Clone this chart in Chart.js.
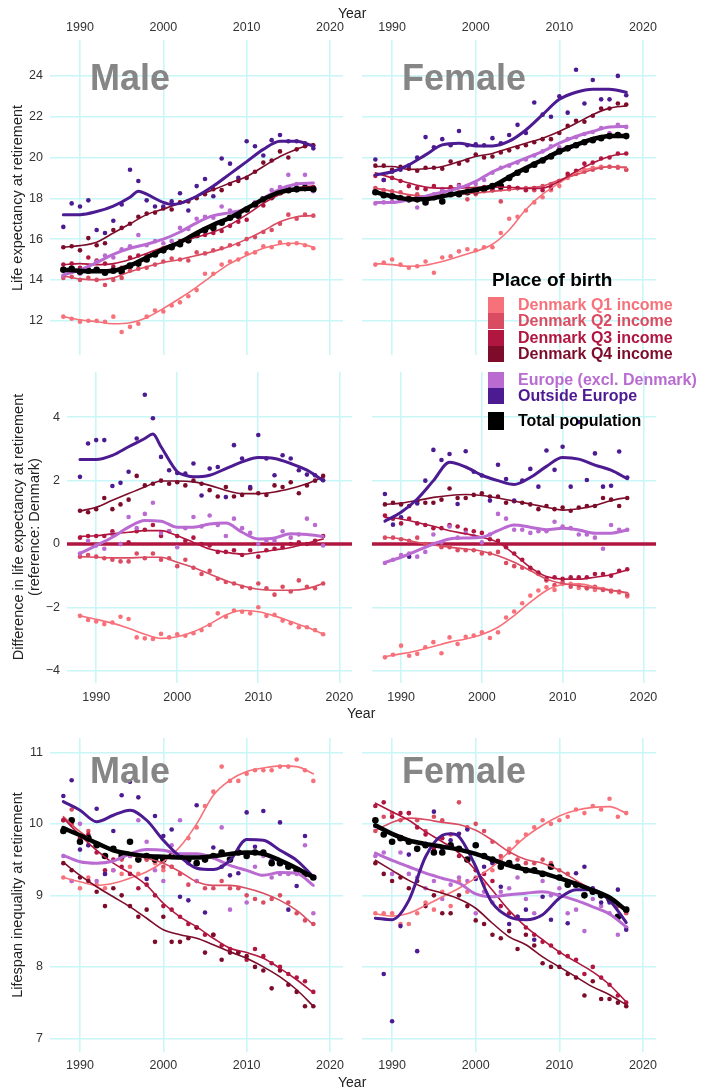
<!DOCTYPE html>
<html>
<head>
<meta charset="utf-8">
<script src="https://cdn.jsdelivr.net/npm/chart.js@4.4.1/dist/chart.umd.min.js"></script>
<style>
  html,body{margin:0;padding:0;background:#fff;}
  #wrap{position:relative;width:703px;height:1089px;overflow:hidden;background:#fff;font-family:"Liberation Sans",Arial,Helvetica,sans-serif;}
  canvas{position:absolute;left:0;top:0;}
  .t{position:absolute;white-space:nowrap;z-index:5;}
  .yt{position:absolute;white-space:nowrap;z-index:5;font-size:14.5px;color:#222;line-height:16px;text-align:center;transform:translate(-50%,-50%) rotate(-90deg);}
  .year{font-size:14px;line-height:14px;color:#222;}
  .panel{font-size:36px;line-height:36px;font-weight:bold;color:#868686;}
  .lg{position:absolute;left:488px;height:16px;display:flex;align-items:center;z-index:5;font-weight:bold;font-size:16px;line-height:16px;white-space:nowrap;}
  .lg span.sq{display:inline-block;width:16px;height:16px;margin-right:14px;}
</style>
</head>
<body>
<div id="wrap">
  <div class="t year" style="left:338px;top:6px;">Year</div>
  <div class="t year" style="left:347px;top:706px;">Year</div>
  <div class="t year" style="left:338px;top:1075px;">Year</div>

  <div class="yt" style="left:17px;top:198px;">Life expectancy at retirement</div>
  <div class="yt" style="left:26px;top:527px;">Difference in life expectancy at retirement<br>(reference: Denmark)</div>
  <div class="yt" style="left:17px;top:895px;">Lifespan inequality at retirement</div>

  <div class="t panel" style="left:90px;top:60px;">Male</div>
  <div class="t panel" style="left:402px;top:60px;">Female</div>
  <div class="t panel" style="left:90px;top:753px;">Male</div>
  <div class="t panel" style="left:402px;top:753px;">Female</div>

  <div class="t" style="left:492px;top:270px;font-size:19px;line-height:19px;font-weight:bold;color:#000;">Place of birth</div>
  <div id="legend"></div>
</div>
<script>
// ---------------- DATA ----------------
const SERIES = ['Denmark Q1 income','Denmark Q2 income','Denmark Q3 income','Denmark Q4 income','Europe (excl. Denmark)','Outside Europe','Total population'];
const COLORS = ['#F6717A','#DA4C61','#B0163F','#7C0C2A','#BA6BD2','#4C1A91','#000000'];
const YEARS = [1988,1989,1990,1991,1992,1993,1994,1995,1996,1997,1998,1999,2000,2001,2002,2003,2004,2005,2006,2007,2008,2009,2010,2011,2012,2013,2014,2015,2016,2017,2018];
const FIT_YEARS = [1988,1990,1992,1994,1996,1998,2000,2002,2004,2006,2008,2010,2012,2014,2016,2018];
const FIT_YEARS_PEAK = [1988,1990,1992,1994,1996,1997,1998,2000,2001,2002,2004,2006,2008,2010,2012,2014,2016,2018];
const X_TICKS = [1990,2000,2010,2020];
const LE_TICKS = [12,14,16,18,20,22,24];
const DIFF_TICKS = [-4,-2,0,2,4];
const INEQ_TICKS = [7,8,9,10,11];

// Life expectancy at retirement, male (rows: Q1,Q2,Q3,Q4,Europe,Outside,Total)
const LE_M_PTS = [
 [12.2,12.1,11.95,12.0,12.0,11.95,12.2,11.45,11.7,11.85,12.2,12.5,12.45,12.75,12.9,13.2,13.5,14.3,14.3,14.75,14.9,15.0,15.3,15.35,15.65,15.6,15.85,15.75,15.8,15.7,15.55],
 [14.1,14.15,14.0,14.1,14.0,13.75,14.0,14.1,14.45,14.55,14.6,14.75,14.9,15.05,15.0,14.95,15.35,15.3,15.45,15.55,15.7,15.75,16.0,16.1,16.35,16.45,16.75,17.2,17.0,17.2,17.15],
 [14.75,14.8,14.6,15.1,14.95,14.8,14.65,14.6,15.1,15.2,15.2,15.3,15.55,15.6,15.9,15.9,16.2,16.2,16.3,16.4,16.65,16.85,16.95,17.75,17.65,18.0,18.3,18.4,18.4,18.65,18.55],
 [15.6,15.65,15.45,16.05,15.7,15.8,16.45,16.55,16.75,17.1,17.25,17.3,17.5,17.45,17.8,17.85,18.0,18.2,18.45,18.4,18.7,18.85,19.0,19.3,19.75,19.85,20.3,20.0,20.4,20.55,20.6],
 [14.2,14.4,14.3,14.6,14.9,15.2,15.1,15.5,15.65,16.2,15.7,15.9,15.8,15.9,16.55,16.5,17.0,17.1,17.05,17.6,17.4,17.2,17.45,17.8,17.9,18.4,18.55,19.15,18.7,19.15,18.35],
 [16.6,17.75,17.6,17.9,16.45,16.3,16.9,17.7,19.4,18.85,17.9,17.6,17.6,17.85,18.25,17.4,18.6,18.95,18.1,19.95,19.7,19.0,20.8,20.55,20.1,20.85,21.1,20.8,20.8,20.7,20.45],
 [14.5,14.55,14.4,14.45,14.5,14.35,14.45,14.4,14.7,14.8,15.0,15.25,15.45,15.6,15.75,15.95,16.2,16.45,16.55,16.8,17.05,17.15,17.45,17.7,17.95,18.1,18.3,18.4,18.45,18.5,18.45]
];
const LE_M_FIT = [
 [12.2,12.05,11.95,11.85,11.9,12.15,12.6,13.1,13.65,14.25,14.8,15.2,15.55,15.75,15.8,15.6],
 [14.2,14.05,14.0,14.1,14.4,14.65,14.85,15.0,15.2,15.4,15.65,16.0,16.4,16.85,17.1,17.15],
 [14.75,14.8,14.75,14.8,15.0,15.3,15.6,15.85,16.1,16.35,16.7,17.2,17.75,18.2,18.5,18.6],
 [15.6,15.68,15.85,16.3,16.75,17.2,17.47,17.77,18.1,18.42,18.75,19.07,19.56,20.05,20.41,20.67],
 [14.25,14.5,14.85,15.25,15.55,15.75,16.0,16.35,16.8,17.15,17.3,17.5,18.0,18.45,18.7,18.75],
 [17.2,17.2,17.35,17.62,18.05,18.35,18.2,17.8,17.7,17.75,18.1,18.6,19.2,19.8,20.4,20.8,20.8,20.55],
 [14.5,14.45,14.42,14.45,14.7,15.1,15.5,15.85,16.3,16.7,17.05,17.5,17.95,18.3,18.45,18.47]
];
// Life expectancy at retirement, female
const LE_F_PTS = [
 [14.75,14.85,15.0,14.75,14.6,14.67,14.9,14.35,15.1,15.16,15.4,15.5,15.45,15.6,15.6,16.3,17.0,17.1,17.4,17.8,18.05,18.4,18.6,19.0,19.2,19.4,19.5,19.55,19.55,19.55,19.4],
 [18.5,18.4,18.35,18.3,18.1,18.2,18.0,18.05,18.2,18.25,18.3,17.95,18.2,18.35,18.4,17.85,18.45,18.5,18.5,18.4,18.6,18.7,18.85,19.1,19.2,19.3,19.4,19.5,19.55,19.5,19.4],
 [19.1,18.9,19.0,18.85,18.6,18.5,18.45,18.6,18.35,18.55,18.65,18.6,18.4,18.55,18.4,18.45,18.55,18.5,18.4,18.5,18.4,18.5,18.85,19.2,19.35,19.7,19.75,19.95,20.0,20.2,20.2],
 [19.6,19.6,19.4,19.55,19.45,19.35,19.5,19.5,19.45,19.8,19.7,19.85,20.15,20.0,20.05,20.25,20.35,20.5,20.6,20.75,20.9,20.9,21.2,21.55,21.8,21.75,22.05,22.4,22.4,22.65,22.6],
 [17.75,17.8,17.85,17.9,17.95,17.55,17.85,18.2,18.45,18.4,18.6,18.55,18.7,18.9,19.25,19.5,19.6,19.75,19.9,20.1,20.3,20.55,20.5,20.9,21.0,21.15,21.25,21.45,21.2,21.6,21.5],
 [19.9,18.9,19.3,19.4,19.6,20.0,21.0,20.5,20.9,20.6,21.3,20.6,20.65,20.6,20.95,20.7,21.1,21.6,21.2,22.7,22.1,22.0,23.0,22.2,24.3,22.65,23.8,22.85,22.85,24.0,23.05],
 [18.3,18.15,18.1,18.0,17.95,17.95,17.8,18.05,17.85,18.2,18.2,18.3,18.35,18.45,18.6,18.6,19.0,19.25,19.4,19.65,19.85,20.05,20.3,20.45,20.6,20.75,20.85,20.95,21.05,21.1,21.05]
];
const LE_F_FIT = [
 [14.8,14.75,14.67,14.72,14.9,15.15,15.4,15.75,16.45,17.45,18.2,18.75,19.25,19.48,19.55,19.48],
 [18.5,18.35,18.18,18.1,18.13,18.2,18.26,18.34,18.42,18.5,18.6,18.9,19.15,19.4,19.55,19.53],
 [19.25,19.0,18.75,18.55,18.5,18.5,18.54,18.55,18.54,18.48,18.5,18.83,19.32,19.73,20.05,20.2],
 [19.56,19.56,19.42,19.45,19.56,19.8,20.05,20.2,20.45,20.7,20.95,21.28,21.68,22.1,22.42,22.53],
 [17.8,17.8,17.93,18.1,18.3,18.5,18.83,19.3,19.64,19.97,20.3,20.7,21.03,21.28,21.5,21.52],
 [19.15,19.3,19.64,20.13,20.62,20.7,20.57,20.57,20.8,21.35,22.1,22.85,23.2,23.35,23.35,23.2],
 [18.3,18.1,17.96,17.96,18.1,18.26,18.42,18.6,19.05,19.48,19.89,20.3,20.62,20.9,21.06,21.06]
];
// Difference in life expectancy (reference: Denmark), male (no total)
const DIFF_M_PTS = [
 [-2.27,-2.4,-2.45,-2.53,-2.48,-2.3,-2.37,-2.95,-2.98,-3.0,-2.84,-2.95,-2.85,-2.9,-2.82,-2.72,-2.56,-2.19,-2.3,-2.1,-2.14,-2.19,-2.0,-2.27,-2.24,-2.42,-2.5,-2.63,-2.63,-2.72,-2.85],
 [-0.4,-0.35,-0.4,-0.45,-0.5,-0.55,-0.55,-0.3,-0.45,-0.3,-0.5,-0.45,-0.7,-0.5,-0.75,-0.95,-0.85,-1.1,-1.2,-1.25,-1.35,-1.4,-1.25,-1.4,-1.6,-1.35,-1.5,-1.15,-1.35,-1.4,-1.25],
 [0.2,0.25,0.25,0.25,0.4,0.0,0.05,0.4,0.45,0.6,0.25,0.4,0.25,0.1,0.2,0.0,-0.05,-0.25,-0.25,-0.2,-0.35,-0.2,-0.4,-0.2,-0.15,-0.1,0.0,0.05,0.0,0.1,0.25],
 [1.05,1.0,1.1,1.45,1.1,1.25,1.4,2.15,1.85,1.9,2.0,1.9,1.95,1.85,2.0,1.9,1.7,1.5,1.8,1.5,1.55,1.75,1.6,1.55,1.85,1.8,1.95,1.6,1.85,2.0,2.15],
 [-0.3,0.1,-0.05,-0.15,0.3,0.0,0.85,0.5,0.95,1.3,0.35,0.4,-0.1,0.5,0.85,0.55,0.9,0.6,0.25,0.8,0.5,0.35,0.0,0.1,0.1,0.4,0.2,0.3,0.8,0.6,-0.05],
 [2.12,3.17,3.28,3.28,1.83,1.93,2.28,3.33,4.71,3.97,2.75,2.33,2.24,2.22,2.54,1.53,2.38,2.43,1.48,3.12,2.7,1.8,3.44,2.7,2.17,2.8,2.7,2.33,2.19,2.17,2.01],
 null
];
const DIFF_M_FIT = [
 [-2.27,-2.38,-2.5,-2.66,-2.85,-2.98,-2.93,-2.77,-2.53,-2.24,-2.1,-2.14,-2.27,-2.45,-2.63,-2.84],
 [-0.4,-0.42,-0.44,-0.44,-0.42,-0.42,-0.58,-0.74,-0.95,-1.16,-1.32,-1.43,-1.46,-1.46,-1.41,-1.25],
 [0.24,0.26,0.32,0.37,0.42,0.42,0.26,0.05,-0.16,-0.26,-0.32,-0.26,-0.19,-0.11,0.02,0.16],
 [1.04,1.16,1.38,1.59,1.8,1.99,1.99,1.96,1.85,1.69,1.59,1.59,1.64,1.75,1.9,2.12],
 [-0.3,-0.05,0.21,0.53,0.74,0.72,0.53,0.53,0.63,0.66,0.37,0.16,0.19,0.32,0.3,0.24],
 [2.67,2.67,2.8,3.07,3.33,3.47,3.07,2.28,2.17,2.12,2.17,2.38,2.59,2.73,2.7,2.54,2.33,2.0],
 null
];
// Difference in life expectancy, female
const DIFF_F_PTS = [
 [-3.58,-3.5,-3.21,-3.53,-3.47,-3.26,-3.1,-3.45,-2.95,-3.16,-2.93,-2.89,-2.79,-2.97,-2.79,-2.32,-2.13,-1.87,-1.63,-1.47,-1.37,-1.45,-1.26,-1.26,-1.39,-1.4,-1.45,-1.42,-1.47,-1.53,-1.66],
 [0.2,0.2,0.15,0.1,0.2,0.0,0.0,-0.1,-0.1,-0.2,-0.2,-0.2,-0.3,-0.3,-0.25,-0.6,-0.7,-0.75,-0.8,-0.95,-1.15,-1.3,-1.2,-1.35,-1.3,-1.4,-1.35,-1.45,-1.5,-1.5,-1.6],
 [0.9,0.8,0.65,0.8,0.65,0.6,0.5,0.5,0.6,0.55,0.45,0.4,0.35,0.15,0.1,-0.1,-0.3,-0.5,-0.75,-0.9,-1.1,-1.05,-1.1,-1.05,-1.05,-1.05,-0.95,-0.95,-1.0,-0.85,-0.8],
 [1.25,1.3,1.25,1.2,1.35,1.3,1.3,1.4,1.75,1.45,1.45,1.55,1.6,1.5,1.5,1.3,1.35,1.3,1.25,1.1,1.2,1.1,1.15,1.05,1.15,1.2,1.2,1.45,1.4,1.2,1.45],
 [-0.6,-0.5,-0.35,-0.3,-0.4,-0.25,0.3,0.05,0.55,0.2,0.35,0.25,0.05,0.3,0.95,0.8,0.45,0.45,0.35,0.4,0.4,0.7,0.55,0.5,0.3,0.3,0.2,-0.15,0.6,0.45,0.45],
 [1.58,0.61,0.84,-0.4,1.28,2.0,2.97,2.65,2.84,1.26,2.93,2.28,2.16,1.37,2.5,2.05,1.37,2.0,2.37,1.81,2.95,2.34,3.07,1.81,3.85,2.02,2.86,1.81,1.84,2.92,2.1],
 null
];
const DIFF_F_FIT = [
 [-3.56,-3.47,-3.37,-3.24,-3.1,-3.0,-2.86,-2.63,-2.26,-1.84,-1.47,-1.28,-1.26,-1.35,-1.46,-1.56],
 [0.21,0.16,0.05,-0.03,-0.1,-0.16,-0.23,-0.37,-0.58,-0.84,-1.11,-1.25,-1.32,-1.4,-1.46,-1.53],
 [0.84,0.79,0.68,0.56,0.42,0.32,0.21,0.05,-0.32,-0.74,-1.03,-1.11,-1.11,-1.05,-0.97,-0.82],
 [1.25,1.29,1.37,1.47,1.53,1.56,1.53,1.45,1.35,1.26,1.16,1.07,1.11,1.21,1.37,1.47],
 [-0.58,-0.42,-0.21,0.0,0.16,0.19,0.21,0.42,0.6,0.53,0.45,0.5,0.44,0.34,0.34,0.44],
 [0.72,1.0,1.42,2.0,2.58,2.43,2.17,2.0,1.88,2.1,2.45,2.73,2.68,2.49,2.33,2.06],
 null
];
// Lifespan inequality at retirement, male
const INEQ_M_PTS = [
 [9.25,9.2,9.1,9.25,9.15,9.1,9.35,9.3,9.4,9.3,9.5,9.45,9.35,9.4,9.55,9.8,9.95,10.25,10.45,10.8,10.6,10.6,10.7,10.75,10.75,10.75,10.8,10.8,10.9,10.75,10.6],
 [10.05,10.2,9.75,9.9,9.7,9.55,9.65,9.5,9.55,9.5,9.5,9.5,9.4,9.4,9.3,9.15,9.2,9.1,9.1,9.2,9.1,9.1,9.0,8.95,8.9,8.95,9.0,8.9,8.75,8.65,8.6],
 [10.05,10.0,9.8,9.85,9.6,9.35,9.5,9.4,9.3,9.1,9.15,9.0,8.85,8.8,8.7,8.6,8.55,8.45,8.45,8.3,8.25,8.2,8.1,8.25,8.15,8.05,8.0,7.9,7.85,7.8,7.65],
 [9.45,9.35,9.25,9.2,9.05,8.85,9.1,9.0,8.85,8.7,8.8,8.35,8.7,8.35,8.35,8.4,8.55,8.2,8.45,8.1,8.2,8.2,8.15,8.0,7.95,7.7,7.95,7.75,7.65,7.45,7.45],
 [9.55,9.2,10.0,9.7,9.2,9.3,9.35,9.55,9.55,10.05,9.75,9.35,9.2,9.7,10.05,9.45,9.2,9.55,9.55,9.95,8.8,9.6,8.9,9.4,9.55,9.25,9.3,9.3,9.3,9.7,8.75],
 [10.39,10.61,9.64,9.7,10.21,9.3,9.9,10.4,10.59,10.37,9.23,10.11,9.83,9.92,8.98,8.93,10.26,8.76,9.67,9.4,9.28,9.31,10.16,9.68,10.18,9.49,10.02,8.8,9.13,9.83,9.26],
 [9.9,10.05,9.75,9.8,9.7,9.55,9.65,9.55,9.75,9.5,9.55,9.5,9.5,9.55,9.55,9.5,9.45,9.5,9.55,9.6,9.5,9.6,9.55,9.6,9.6,9.45,9.45,9.4,9.35,9.3,9.25]
];
const INEQ_M_FIT = [
 [9.25,9.19,9.14,9.17,9.24,9.33,9.47,9.68,10.0,10.4,10.61,10.73,10.78,10.81,10.8,10.7],
 [10.1,9.89,9.73,9.63,9.56,9.52,9.45,9.33,9.19,9.14,9.14,9.1,9.03,8.93,8.79,8.59],
 [10.08,9.84,9.63,9.45,9.31,9.14,8.89,8.7,8.56,8.4,8.26,8.2,8.12,7.98,7.82,7.64],
 [9.46,9.28,9.12,8.98,8.84,8.68,8.52,8.45,8.4,8.31,8.21,8.12,8.0,7.86,7.68,7.45],
 [9.56,9.47,9.45,9.48,9.58,9.64,9.63,9.58,9.58,9.52,9.42,9.35,9.28,9.32,9.31,9.14],
 [10.31,10.19,10.03,10.12,10.19,10.05,9.77,9.54,9.38,9.36,9.49,9.78,9.77,9.63,9.49,9.26],
 [9.94,9.84,9.73,9.63,9.58,9.55,9.54,9.53,9.53,9.55,9.58,9.6,9.58,9.49,9.38,9.25]
];
// Lifespan inequality at retirement, female
const INEQ_F_PTS = [
 [8.75,8.75,8.75,8.6,8.6,8.75,8.9,8.8,9.05,8.85,9.2,9.05,9.25,9.15,9.35,9.5,9.65,9.75,9.85,9.95,10.05,10.0,10.05,10.1,10.2,10.15,10.25,10.2,10.35,10.1,10.15],
 [9.9,10.1,10.15,10.05,10.15,10.05,9.9,10.1,10.05,9.85,10.3,9.95,10.0,9.9,9.75,9.55,9.6,9.5,9.45,9.45,9.5,9.45,9.35,9.3,9.15,9.1,9.05,9.0,8.95,8.85,8.75],
 [10.25,10.3,10.1,10.15,10.15,9.95,9.85,9.65,9.8,9.7,9.55,9.5,9.35,9.3,9.2,8.85,8.75,8.7,8.55,8.45,8.35,8.3,8.2,8.15,8.1,7.9,8.0,7.85,7.75,7.6,7.5],
 [9.45,9.3,9.2,9.25,9.1,9.2,8.85,9.0,8.75,8.75,9.0,8.85,8.65,8.6,8.45,8.4,8.5,8.25,8.45,8.3,8.05,8.0,8.0,7.9,7.85,7.6,7.8,7.55,7.55,7.5,7.45],
 [9.55,9.6,9.3,9.6,9.3,9.25,9.1,9.2,8.95,9.15,9.25,9.2,8.75,9.05,8.9,9.05,9.1,9.25,8.95,8.75,9.2,9.0,9.1,8.75,8.8,8.5,8.95,8.85,8.75,8.45,8.55],
 [9.97,7.9,7.24,8.57,9.57,8.22,9.72,10.17,9.66,9.77,9.86,9.92,9.23,9.4,9.45,9.12,8.6,8.7,8.8,8.38,8.98,8.66,9.0,8.61,9.31,9.4,9.1,8.9,8.9,9.08,8.52],
 [10.05,9.85,9.75,9.8,9.75,9.65,9.7,9.6,9.6,9.7,9.65,9.5,9.7,9.55,9.5,9.4,9.45,9.4,9.35,9.35,9.3,9.4,9.25,9.15,9.15,9.0,9.05,9.0,8.95,8.7,8.8]
];
const INEQ_F_FIT = [
 [8.74,8.71,8.75,8.86,8.98,9.1,9.24,9.4,9.61,9.82,9.98,10.11,10.19,10.23,10.24,10.15],
 [9.91,10.02,10.08,10.06,10.02,9.99,9.91,9.77,9.61,9.5,9.45,9.35,9.21,9.07,8.96,8.77],
 [10.29,10.17,10.05,9.89,9.75,9.59,9.35,9.07,8.79,8.56,8.38,8.21,8.07,7.93,7.75,7.51],
 [9.49,9.35,9.21,9.1,9.03,8.95,8.82,8.61,8.42,8.31,8.14,8.0,7.86,7.72,7.61,7.47],
 [9.59,9.49,9.4,9.31,9.24,9.17,9.02,8.98,9.01,9.03,9.05,9.0,8.93,8.84,8.74,8.56],
 [8.68,8.66,8.93,9.54,9.84,9.86,9.82,9.4,9.12,8.89,8.7,8.66,8.73,8.96,9.08,9.08,8.93,8.62],
 [9.98,9.86,9.77,9.72,9.68,9.64,9.58,9.5,9.42,9.36,9.31,9.24,9.16,9.07,8.97,8.79]
];

// ---------------- RENDER ----------------
const W = 703, H = 1089;
const X_MIN = 1986.4, X_MAX = 2021.56;
const GRID = '#c9f6f6';
const ZERO_COLOR = '#B0163F';
const FONT = '"Liberation Sans", Arial, Helvetica, sans-serif';
const LINE_W = [1.6,1.6,1.6,1.6,3,3,4.5];

const PANELS = [
  {pts:LE_M_PTS,   fit:LE_M_FIT,   area:[50,40,343,355],  y:[10.32,25.76], yt:LE_TICKS,   xPos:'top',    yw:50, xh:38, labels:true,  zero:false},
  {pts:LE_F_PTS,   fit:LE_F_FIT,   area:[362,40,656,355], y:[10.32,25.76], yt:LE_TICKS,   xPos:'top',    yw:0,  xh:38, labels:false, zero:false},
  {pts:DIFF_M_PTS, fit:DIFF_M_FIT, area:[67,372,352,683], y:[-4.39,5.43],  yt:DIFF_TICKS, xPos:'bottom', yw:67, xh:30, labels:true,  zero:true},
  {pts:DIFF_F_PTS, fit:DIFF_F_FIT, area:[372,372,656,683],y:[-4.39,5.43],  yt:DIFF_TICKS, xPos:'bottom', yw:0,  xh:30, labels:false, zero:true},
  {pts:INEQ_M_PTS, fit:INEQ_M_FIT, area:[50,738,343,1052], y:[6.81,11.2],  yt:INEQ_TICKS, xPos:'bottom', yw:50, xh:25, labels:true,  zero:false},
  {pts:INEQ_F_PTS, fit:INEQ_F_FIT, area:[362,738,656,1052],y:[6.81,11.2],  yt:INEQ_TICKS, xPos:'bottom', yw:0,  xh:25, labels:false, zero:false}
];

function fmt(v){ return v < 0 ? '\u2212' + Math.abs(v) : String(v); }

function buildDatasets(p){
  const ds = [];
  if (p.zero) {
    ds.push({data:[{x:X_MIN,y:0},{x:X_MAX,y:0}], borderColor:ZERO_COLOR, borderWidth:3.5, pointRadius:0, order:100});
  }
  p.pts.forEach((arr,i)=>{
    if (!arr) return;
    ds.push({
      data: YEARS.map((yr,k)=>({x:yr,y:arr[k]})),
      showLine:false,
      pointRadius: i===6 ? 3.3 : 2.3,
      pointBackgroundColor: COLORS[i],
      pointBorderWidth: 0,
      order: 50 - i
    });
  });
  p.fit.forEach((arr,i)=>{
    if (!arr) return;
    const yrs = arr.length === FIT_YEARS.length ? FIT_YEARS : FIT_YEARS_PEAK;
    ds.push({
      data: yrs.map((yr,k)=>({x:yr,y:arr[k]})),
      borderColor: COLORS[i],
      borderWidth: LINE_W[i],
      pointRadius: 0,
      cubicInterpolationMode: 'monotone',
      borderCapStyle: 'round',
      order: 20 - i
    });
  });
  return ds;
}

const wrap = document.getElementById('wrap');
PANELS.forEach(p=>{
  const cv = document.createElement('canvas');
  cv.width = W; cv.height = H;
  cv.style.width = W + 'px'; cv.style.height = H + 'px';
  wrap.appendChild(cv);
  const [L,T,R,B] = p.area;
  const pad = {
    left: L - p.yw,
    right: W - R,
    top: p.xPos === 'top' ? T - p.xh : T,
    bottom: p.xPos === 'top' ? H - B : H - B - p.xh
  };
  new Chart(cv.getContext('2d'), {
    type:'line',
    data:{datasets: buildDatasets(p)},
    options:{
      responsive:false, animation:false, devicePixelRatio:1,
      layout:{padding:pad},
      plugins:{legend:{display:false}, tooltip:{enabled:false}},
      events:[],
      scales:{
        x:{
          type:'linear', position:p.xPos, min:X_MIN, max:X_MAX,
          afterBuildTicks: s => { s.ticks = X_TICKS.map(v=>({value:v})); },
          afterFit: s => { s.height = p.xh; },
          grid:{color:GRID, lineWidth:1.6, drawTicks:false},
          border:{display:false},
          ticks:{padding: p.xPos==='top' ? 5 : (p.zero ? 7 : 6), color:'#333', font:{family:FONT, size:12.5}, maxRotation:0, autoSkip:false, callback:v=>String(v)}
        },
        y:{
          type:'linear', position:'left', min:p.y[0], max:p.y[1],
          afterBuildTicks: s => { s.ticks = p.yt.map(v=>({value:v})); },
          afterFit: s => { s.width = p.yw; },
          grid:{color:GRID, lineWidth:1.6, drawTicks:false},
          border:{display:false},
          ticks:{display:p.labels, padding:7, color:'#333', font:{family:FONT, size:12.5}, autoSkip:false, callback:v=>fmt(v)}
        }
      }
    }
  });
});

// legend (HTML)
const LEG_TOPS = [297,313,330,346,372,388,412];
const legend = document.getElementById('legend');
SERIES.forEach((name,i)=>{
  const d = document.createElement('div');
  d.className = 'lg';
  d.style.top = LEG_TOPS[i] + 'px';
  d.style.color = COLORS[i];
  if (i===6) { d.style.height='18px'; }
  d.innerHTML = '<span class="sq" style="background:'+COLORS[i]+';'+(i===6?'height:18px;':'')+'"></span>' + name;
  legend.appendChild(d);
});
</script>
</body>
</html>
